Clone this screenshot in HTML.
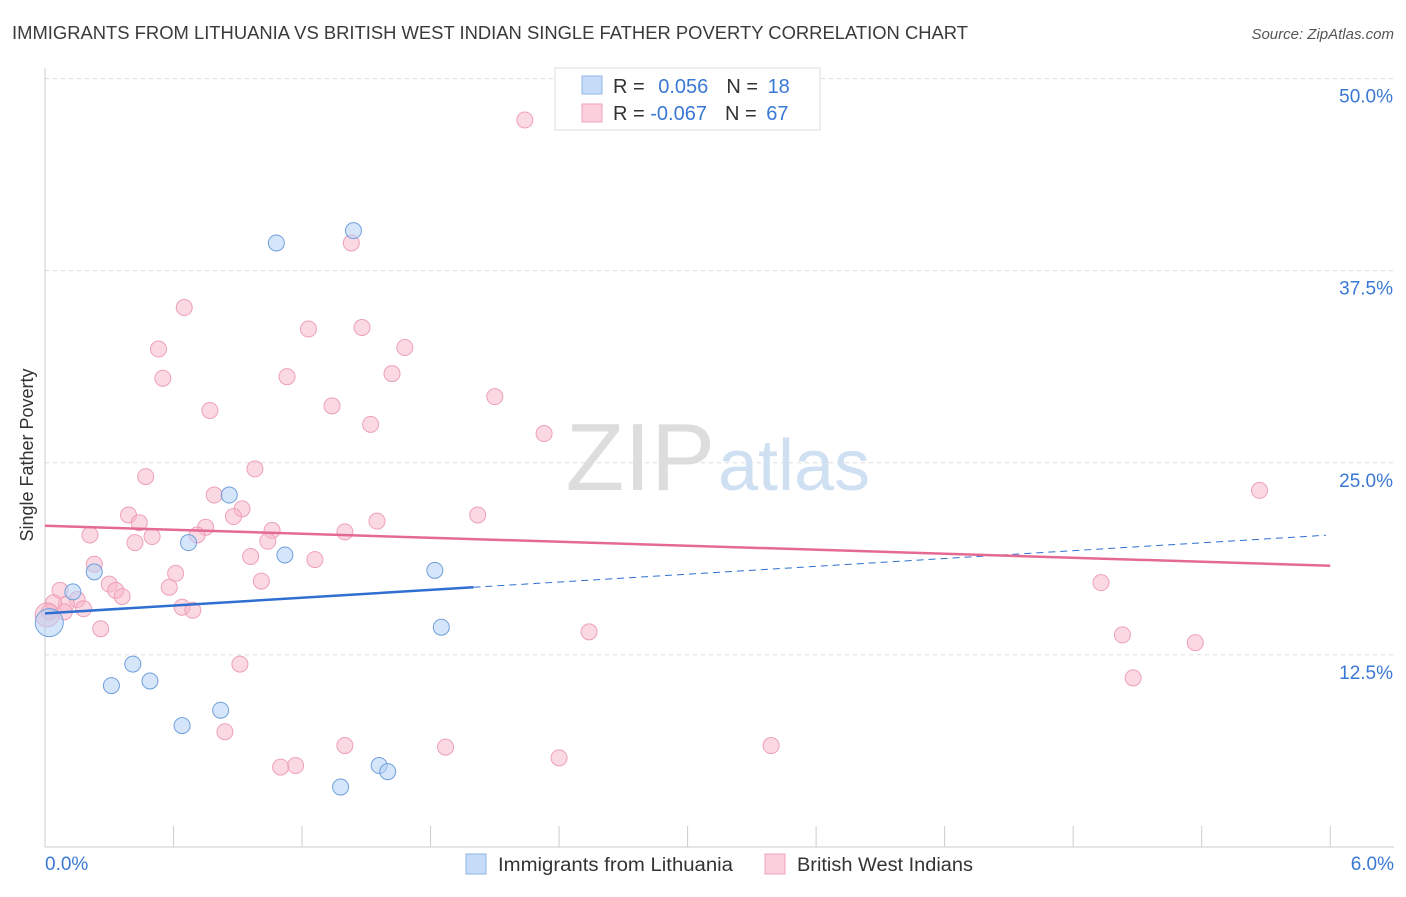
<!DOCTYPE html>
<html><head><meta charset="utf-8"><style>
body{margin:0;background:#fff;font-family:"Liberation Sans",sans-serif;}
svg text{font-family:"Liberation Sans",sans-serif;}
</style></head><body>
<svg width="1406" height="892" xmlns="http://www.w3.org/2000/svg">
<text x="12" y="39" font-size="18" fill="#3a3a3a" textLength="956" lengthAdjust="spacingAndGlyphs">IMMIGRANTS FROM LITHUANIA VS BRITISH WEST INDIAN SINGLE FATHER POVERTY CORRELATION CHART</text>
<text x="1394" y="39" font-size="15" fill="#555" font-style="italic" text-anchor="end">Source: ZipAtlas.com</text>
<g id="grid"></g>
<text x="715" y="490" font-size="96" fill="#ddd" text-anchor="end" font-family="Liberation Serif">ZIP</text>
<text x="718" y="490" font-size="72" fill="#cfe0f2">atlas</text>
<text x="33" y="455" font-size="18" fill="#333" text-anchor="middle" transform="rotate(-90 33 455)">Single Father Poverty</text>
<g id="marks"></g>
<g>
<rect x="555" y="68" width="265" height="62" fill="#fff" stroke="#ddd"/>
<rect x="582" y="76" width="20" height="18" fill="#c5dbf7" stroke="#8fb5e8"/>
<rect x="582" y="104" width="20" height="18" fill="#fbd0dc" stroke="#efa3b9"/>
<text x="613" y="93" font-size="20" fill="#333">R = <tspan fill="#3a78d4" dx="8">0.056</tspan><tspan dx="18">N = </tspan><tspan fill="#3a78d4" dx="4">18</tspan></text>
<text x="613" y="120" font-size="20" fill="#333">R = <tspan fill="#3a78d4">-0.067</tspan><tspan dx="18">N = </tspan><tspan fill="#3a78d4" dx="4">67</tspan></text>
</g>
<g>
<rect x="466" y="854" width="20" height="20" fill="#c5dbf7" stroke="#8fb5e8"/>
<text x="498" y="871" font-size="19" fill="#333" textLength="235" lengthAdjust="spacingAndGlyphs">Immigrants from Lithuania</text>
<rect x="765" y="854" width="20" height="20" fill="#fbd0dc" stroke="#efa3b9"/>
<text x="797" y="871" font-size="19" fill="#333" textLength="176" lengthAdjust="spacingAndGlyphs">British West Indians</text>
</g>
</svg>
<script>
const yTicks=[12.5,25,37.5,50];
const xTickLabels=["0.0%","6.0%"];
const blueX=[1.08,1.44,0.86,0.67,1.12,0.23,0.13,1.82,1.85,0.02,0.41,0.31,0.49,0.64,0.82,1.38,1.56,1.60];
const blueY=[39.3,40.1,22.9,19.8,19.0,17.9,16.6,18.0,14.3,14.6,11.9,10.5,10.8,7.9,8.9,3.9,5.3,4.9];
const pinkX=[2.24,1.43,0.65,1.23,1.48,0.53,1.68,0.55,1.13,1.62,0.77,1.34,2.10,1.52,2.33,0.98,0.47,0.79,0.92,0.39,0.88,0.44,1.55,2.02,0.75,0.21,1.06,1.40,0.50,0.71,0.42,1.04,0.96,1.26,0.23,0.61,1.01,0.30,0.07,0.33,0.58,0.36,0.15,0.10,0.04,0.64,0.18,0.69,0.09,0.02,0.26,2.54,5.67,4.93,5.03,5.37,5.08,0.91,0.84,1.40,1.87,3.39,2.40,1.17,1.10,0.01];
const pinkY=[47.3,39.3,35.1,33.7,33.8,32.4,32.5,30.5,30.6,30.8,28.4,28.7,29.3,27.5,26.9,24.6,24.1,22.9,22.0,21.6,21.5,21.1,21.2,21.6,20.8,20.3,20.6,20.5,20.2,20.3,19.8,19.9,18.9,18.7,18.4,17.8,17.3,17.1,16.7,16.7,16.9,16.3,16.1,15.8,15.9,15.6,15.5,15.4,15.3,15.3,14.2,14.0,23.2,17.2,13.8,13.3,11.0,11.9,7.5,6.6,6.5,6.6,5.8,5.3,5.2,15.1];
const blueTrend=[15.2,20.3], pinkTrend=[20.9,18.3];
const NS="http://www.w3.org/2000/svg";
const X=v=>45+v*214.2, Y=v=>847-v*15.37;
function mk(t,a,p){const e=document.createElementNS(NS,t);for(const k in a)e.setAttribute(k,a[k]);p.appendChild(e);return e;}
const g=document.getElementById('grid'), m=document.getElementById('marks');
yTicks.forEach(v=>{
 const l=mk('line',{x1:45,x2:1394,y1:Y(v),y2:Y(v),stroke:'#ddd','stroke-dasharray':'4,4'},g);
 
 
 const t=mk('text',{x:1393,y:Y(v)+24,'font-size':19,fill:'#3a78d4','text-anchor':'end'},g);
 t.textContent=v.toFixed(1)+'%';
 
 
});
mk('line',{x1:45,x2:45,y1:68,y2:847,stroke:'#ccc'},g);
mk('line',{x1:45,x2:1394,y1:847,y2:847,stroke:'#ccc'},g);
for(let i=0;i<=10;i++){const tk=mk('line',{x1:X(i*0.6),x2:X(i*0.6),y1:826,y2:847,stroke:'#ccc'},g);}
xTickLabels.forEach((s,i)=>{const t=mk('text',{x:i?1394:45,y:870,'font-size':19,fill:'#3a78d4','text-anchor':i?'end':'start'},g);t.textContent=s;});
pinkX.forEach((x,i)=>{const c=mk('circle',{cx:X(x),cy:Y(pinkY[i]),r:i==pinkX.length-1?12:8,fill:'rgba(248,180,200,0.5)',stroke:'#eea0b8','stroke-width':1},m);
 
 });
blueX.forEach((x,i)=>{const c=mk('circle',{cx:X(x),cy:Y(blueY[i]),r:i==9?14:8,fill:'rgba(180,210,245,0.55)',stroke:'#6f9fdc','stroke-width':1},m);
 
 });
const bt=v=>blueTrend[0]+(blueTrend[1]-blueTrend[0])*v/6;
let l1=mk('line',{x1:X(0),y1:Y(bt(0)),x2:X(2),y2:Y(bt(2)),stroke:'#2f6fd1','stroke-width':2.5},m);


let l2=mk('line',{x1:X(2),y1:Y(bt(2)),x2:X(5.98),y2:Y(bt(5.98)),stroke:'#2f6fd1','stroke-width':1,'stroke-dasharray':'7,5'},m);


let l3=mk('line',{x1:X(0),y1:Y(pinkTrend[0]),x2:X(6),y2:Y(pinkTrend[1]),stroke:'#e56a93','stroke-width':2.5},m);


</script>
</body></html>
